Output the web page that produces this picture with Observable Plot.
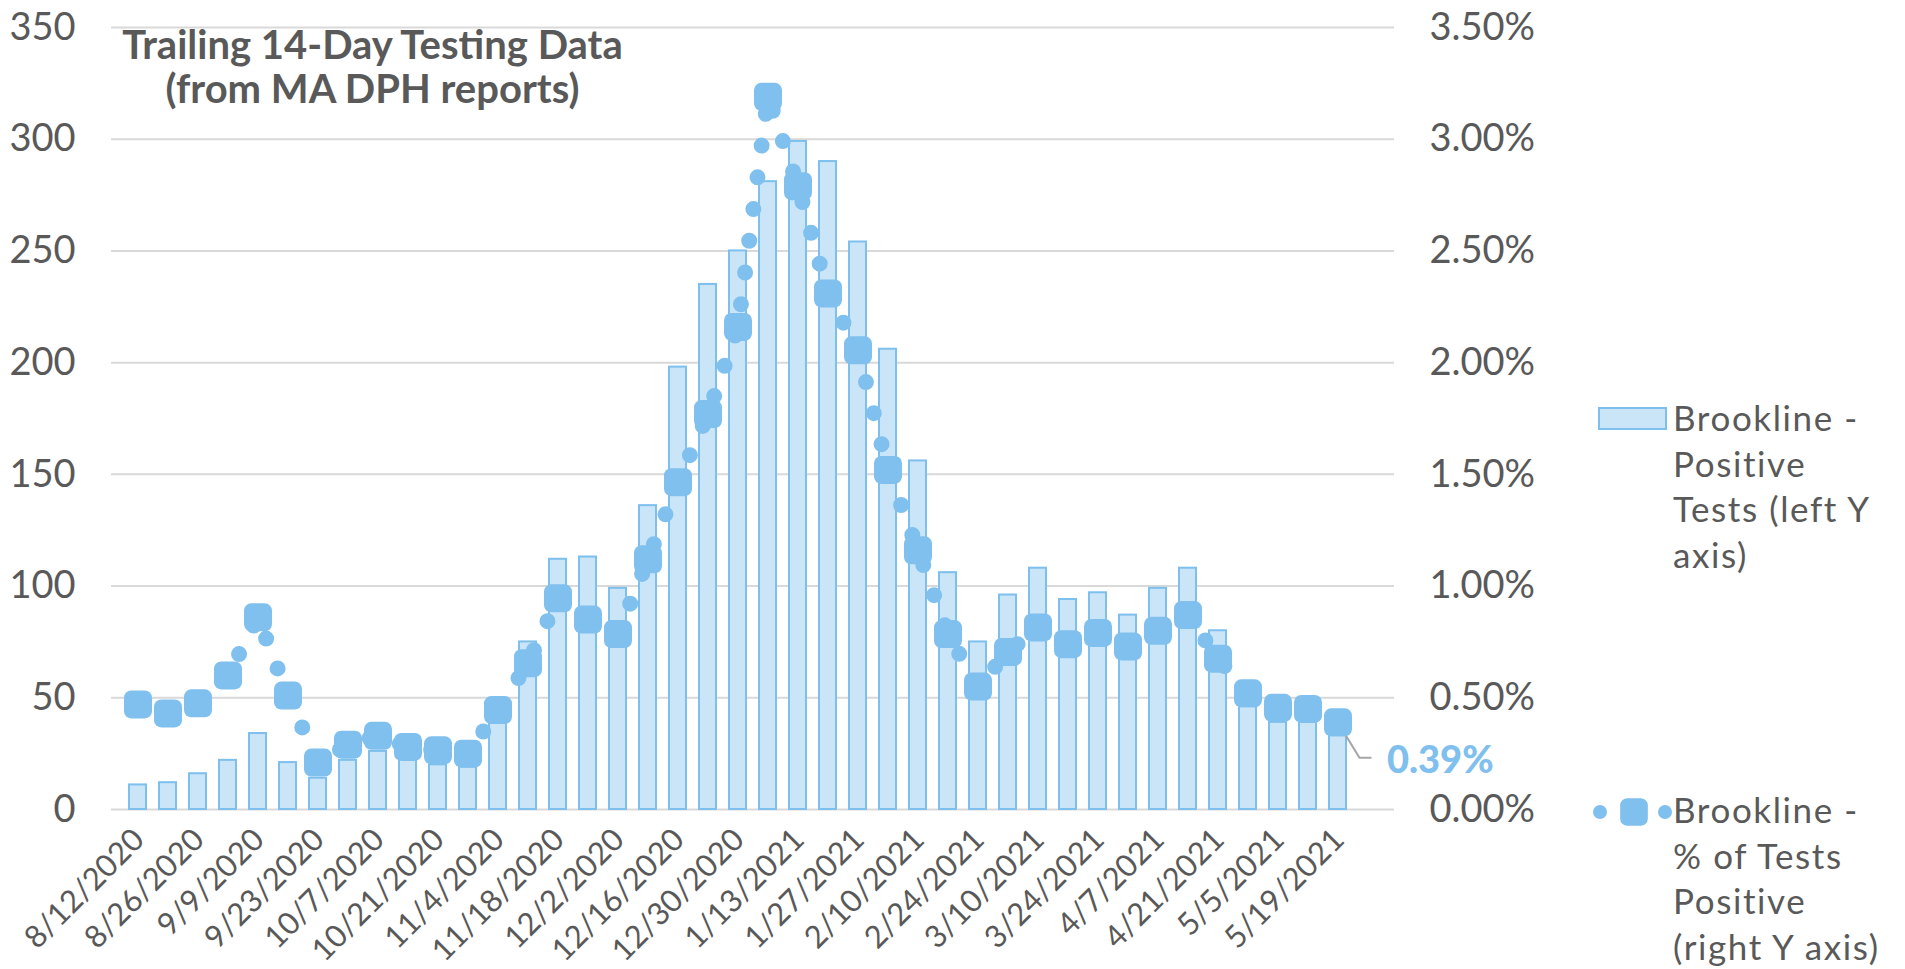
<!DOCTYPE html>
<html><head><meta charset="utf-8">
<script src="https://cdn.jsdelivr.net/npm/d3@7"></script>
<script src="https://cdn.jsdelivr.net/npm/@observablehq/plot@0.6"></script>
<style>
body{margin:0;background:#fff;}
#chart{position:relative;width:1905px;height:969px;}
</style></head><body><div id="chart"></div>
<script>
// ---- data ----
const weeks = ["8/12/2020","8/19/2020","8/26/2020","9/2/2020","9/9/2020","9/16/2020","9/23/2020","9/30/2020","10/7/2020","10/14/2020","10/21/2020","10/28/2020","11/4/2020","11/11/2020","11/18/2020","11/25/2020","12/2/2020","12/9/2020","12/16/2020","12/23/2020","12/30/2020","1/6/2021","1/13/2021","1/20/2021","1/27/2021","2/3/2021","2/10/2021","2/17/2021","2/24/2021","3/3/2021","3/10/2021","3/17/2021","3/24/2021","3/31/2021","4/7/2021","4/14/2021","4/21/2021","4/28/2021","5/5/2021","5/12/2021","5/19/2021"];
const emptyWeeks = ["5/26/2021"];
const positiveTests = [11,12,16,22,34,21,14,22,26,24,20,19,40,75,112,113,99,136,198,235,250,281,299,290,254,206,156,106,75,96,108,94,97,87,99,108,80,46,39,40,33];
const pctPositive = [0.47,0.43,0.475,0.60,0.86,0.51,0.21,0.29,0.33,0.28,0.265,0.25,0.445,0.655,0.945,0.85,0.785,1.12,1.465,1.77,2.16,3.19,2.79,2.31,2.055,1.52,1.16,0.785,0.55,0.705,0.815,0.74,0.79,0.73,0.80,0.87,0.675,0.52,0.455,0.45,0.39];
const leftTicks = [0,50,100,150,200,250,300,350];
const tickWeeks = weeks.filter((d, i) => i % 2 === 0);
const titleText = "Trailing 14-Day Testing Data\n(from MA DPH reports)";
const legendLines = [["Brookline -","Positive","Tests (left Y","axis)"],["Brookline -","% of Tests","Positive","(right Y axis)"]];

const rows = weeks.map((w, i) => ({week: w, tests: positiveTests[i], pct: pctPositive[i], pctScaled: pctPositive[i] * 100}));

const barFill = "#cbe5f8", barStroke = "#7dbfed", lineColor = "#7fc0ee", textColor = "#595959";

const roundedSquare = {
  draw(context, size) {
    const s = Math.sqrt(size) / 2, r = s * 0.52;
    context.moveTo(-s + r, -s);
    context.lineTo(s - r, -s);
    context.arcTo(s, -s, s, -s + r, r);
    context.lineTo(s, s - r);
    context.arcTo(s, s, s - r, s, r);
    context.lineTo(-s + r, s);
    context.arcTo(-s, s, -s, s - r, r);
    context.lineTo(-s, -s + r);
    context.arcTo(-s, -s, -s + r, -s, r);
    context.closePath();
  }
};

const chart = Plot.plot({
  width: 1905, height: 969,
  marginLeft: 111, marginRight: 511, marginTop: 27, marginBottom: 160,
  style: {fontFamily: "Lato, sans-serif", color: textColor, background: "white", overflow: "visible"},
  x: {type: "band", domain: [...weeks, ...emptyWeeks], paddingInner: 0.45, paddingOuter: 0.225, label: null, axis: null},
  y: {domain: [0, 350], label: null, axis: null},
  marks: [
    Plot.gridY(leftTicks, {stroke: "#d9d9d9", strokeOpacity: 1, strokeWidth: 2}),
    Plot.barY(rows, {x: "week", y: "tests", fill: barFill, stroke: barStroke, strokeWidth: 2, inset: 0}),
    Plot.line(rows, {x: "week", y: "pctScaled", stroke: lineColor, strokeWidth: 16, strokeDasharray: "0 32", strokeLinecap: "round"}),
    Plot.dot(rows, {x: "week", y: "pctScaled", r: 15.8, symbol: roundedSquare, fill: lineColor, stroke: "none"}),
    Plot.axisY(leftTicks, {anchor: "left", tickSize: 0, tickPadding: 36, fontSize: 38, label: null}),
    Plot.axisY(leftTicks, {anchor: "right", tickSize: 0, tickPadding: 35, fontSize: 38, label: null, tickFormat: d => (d / 100).toFixed(2) + "%"}),
    Plot.axisX(tickWeeks, {tickRotate: -45, tickSize: 0, tickPadding: 25, dx: 1, fontSize: 31, label: null}),
    Plot.text([titleText], {frameAnchor: "top-left", dx: 261, dy: 0, lineAnchor: "top", textAnchor: "middle", lineHeight: 1.1, fontSize: 40, fontWeight: "bold", fill: textColor}),
    Plot.text([rows[rows.length - 1]], {x: "week", y: "pctScaled", text: d => d.pct.toFixed(2) + "%", dx: 49, dy: 38, textAnchor: "start", fontSize: 38, fontWeight: 900, fill: lineColor})
  ]
});

document.getElementById("chart").appendChild(chart);

// leader line from last point to its label, using the chart's scales
const svg = d3.select(chart);
const xs = chart.scale("x"), ys = chart.scale("y");
const last = rows[rows.length - 1];
const px = xs.apply(last.week) + xs.bandwidth / 2, py = ys.apply(last.pctScaled);
svg.insert("path", "g[aria-label='dot']")
  .attr("d", `M${px},${py}L${px + 22},${py + 36}L${px + 34},${py + 36}`)
  .attr("fill", "none").attr("stroke", "#a6a6a6").attr("stroke-width", 2);

// legend
const lg = svg.append("g").attr("font-family", "Lato, sans-serif").attr("font-size", 35).attr("fill", textColor)
  .attr("letter-spacing", 1.6).attr("text-anchor", "start");
lg.append("rect").attr("x", 1599).attr("y", 408).attr("width", 67).attr("height", 21)
  .attr("fill", barFill).attr("stroke", barStroke).attr("stroke-width", 2);
legendLines[0].forEach((t, i) => lg.append("text").attr("x", 1673).attr("y", 431 + i * 45.5).text(t));
lg.append("circle").attr("cx", 1600).attr("cy", 812).attr("r", 7).attr("fill", lineColor);
lg.append("circle").attr("cx", 1665).attr("cy", 812).attr("r", 7).attr("fill", lineColor);
lg.append("path").attr("transform", "translate(1634,812)").attr("d", d3.symbol(roundedSquare, 765)()).attr("fill", lineColor);
legendLines[1].forEach((t, i) => lg.append("text").attr("x", 1673).attr("y", 823 + i * 45.5).text(t));
</script></body></html>
